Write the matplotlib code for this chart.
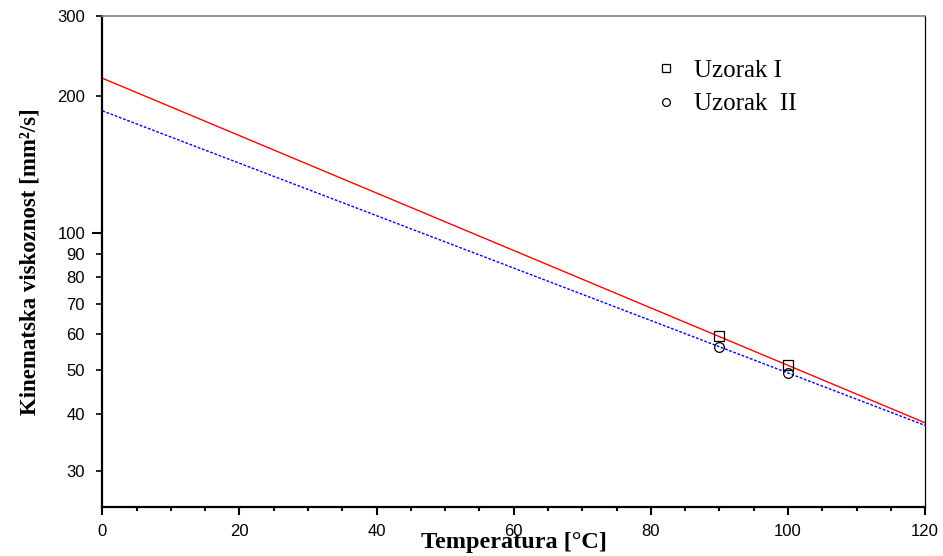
import matplotlib
matplotlib.use("Agg")
import matplotlib.pyplot as plt
from matplotlib.ticker import FixedLocator, FixedFormatter

# Measured kinematic viscosity (mm2/s) at test temperatures (°C)
temp_meas = [90, 100]
visc_I = [59.4, 51.3]
visc_II = [56.3, 49.2]

# Fitted exponential trend lines, given by their values at the range ends
fit_temp = [0, 120]
fit_I = [219.3, 38.3]
fit_II = [185.9, 37.8]

labels = ["Uzorak I", "Uzorak  II"]
x_ticks = [0, 20, 40, 60, 80, 100, 120]
y_major = [100]
y_minor = [30, 40, 50, 60, 70, 80, 90, 200, 300]

fig = plt.figure(figsize=(9.43, 5.56), dpi=100)
ax = fig.add_axes([0.1085, 0.0881, 0.8725, 0.8826])

ax.plot(fit_temp, fit_I, color="red", lw=1.0, solid_capstyle="butt")
ax.plot(fit_temp, fit_II, color="blue", lw=1.0, linestyle=(0, (2.0, 1.2)))

h1, = ax.plot(temp_meas, visc_I, linestyle="none", marker="s", ms=7,
              mfc="none", mec="black", mew=0.9, label=labels[0])
h2, = ax.plot(temp_meas, visc_II, linestyle="none", marker="o", ms=7,
              mfc="none", mec="black", mew=0.9, label=labels[1])

ax.set_yscale("log")
ax.set_xlim(0, 120)
ax.set_ylim(25, 300)

ax.xaxis.set_major_locator(FixedLocator(x_ticks))
ax.xaxis.set_minor_locator(FixedLocator(list(range(0, 121, 5))))
ax.yaxis.set_major_locator(FixedLocator(y_major))
ax.yaxis.set_major_formatter(FixedFormatter([str(v) for v in y_major]))
ax.yaxis.set_minor_locator(FixedLocator(y_minor))
ax.yaxis.set_minor_formatter(FixedFormatter([str(v) for v in y_minor]))

for lab in ax.get_xticklabels() + ax.get_yticklabels() + ax.get_yticklabels(minor=True):
    lab.set_fontfamily("Liberation Sans")
    lab.set_fontsize(12)

ax.tick_params(axis="x", which="major", direction="out", length=6, width=1.5, pad=6.5)
ax.tick_params(axis="x", which="minor", direction="out", length=3, width=1.5)
ax.tick_params(axis="y", which="major", direction="out", length=7.2, width=1.5, pad=5.2)
ax.tick_params(axis="y", which="minor", direction="out", length=4, width=1.2, pad=8.4)
ax.tick_params(top=False, right=False, which="both")

ax.spines["left"].set_linewidth(1.6)
ax.spines["bottom"].set_linewidth(1.6)
ax.spines["top"].set_color("#808080")
ax.spines["top"].set_linewidth(1.2)
ax.spines["right"].set_color("black")
ax.spines["right"].set_linewidth(0.9)

ax.set_xlabel("Temperatura [°C]", fontfamily="Liberation Serif",
              fontweight="bold", fontsize=17.5, labelpad=-5)
ax.set_ylabel("Kinematska viskoznost [mm²/s]", fontfamily="Liberation Serif",
              fontweight="bold", fontsize=16.5, labelpad=12)

ax.legend(handles=[h1, h2], loc="upper left", bbox_to_anchor=(0.645, 0.958),
          frameon=False, prop={"family": "Liberation Serif", "size": 18},
          markerscale=0.8, handlelength=0.8, handletextpad=0.72,
          labelspacing=0.44, borderpad=0.4)

fig.savefig("out.png", dpi=100)
